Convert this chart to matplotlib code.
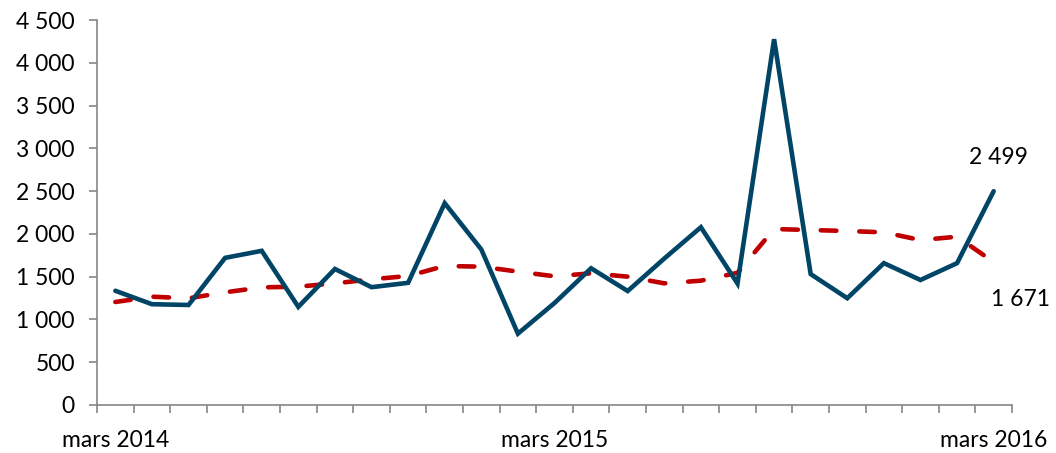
import numpy as np
import matplotlib.pyplot as plt

plt.rcParams['font.family'] = ['Lato', 'DejaVu Sans']

# monthly values, mars 2014 .. mars 2016
months = ["mars 2014", "avr 2014", "mai 2014", "juin 2014", "juil 2014", "août 2014",
          "sept 2014", "oct 2014", "nov 2014", "déc 2014", "janv 2015", "févr 2015",
          "mars 2015", "avr 2015", "mai 2015", "juin 2015", "juil 2015", "août 2015",
          "sept 2015", "oct 2015", "nov 2015", "déc 2015", "janv 2016", "févr 2016",
          "mars 2016"]
monthly = [1335, 1178, 1169, 1720, 1802, 1147, 1590, 1377, 1428, 2359, 1818, 834,
           1192, 1598, 1332, 1712, 2078, 1420, 4276, 1530, 1248, 1658, 1461, 1658,
           2499]
trend = [1204, 1266, 1247, 1317, 1375, 1383, 1422, 1469, 1508, 1625, 1617, 1559,
         1504, 1539, 1500, 1422, 1453, 1545, 2057, 2045, 2034, 2018, 1928, 1967,
         1671]
label_idx = [0, 12, 24]

x = np.arange(len(months))
grey = "#868686"
fs = 16.5

fig = plt.figure(figsize=(10.56, 4.53), dpi=100)
ax = fig.add_axes([0.0919, 0.106, 0.8664, 0.8498])

ax.plot(x, trend, color="#C00000", lw=3.3, dashes=(3.4, 5.0),
        dash_capstyle="round", solid_capstyle="round", zorder=2)
ax.plot(x, monthly, color="#004566", lw=3.3, solid_joinstyle="miter",
        solid_capstyle="round", zorder=3)

ax.annotate(f"{monthly[-1]:,}".replace(",", " "), (x[-1], monthly[-1]),
            xytext=(5, 34), textcoords="offset pixels", ha="center", va="center",
            fontsize=fs)
ax.annotate(f"{trend[-1]:,}".replace(",", " "), (x[-1], trend[-1]),
            xytext=(27, -37), textcoords="offset pixels", ha="center", va="center",
            fontsize=fs)

ax.set_xlim(-0.5, len(months) - 0.5)
ax.set_ylim(0, 4500)
ax.set_yticks(np.arange(0, 4501, 500))
ax.set_yticklabels([f"{v:,}".replace(",", " ") for v in range(0, 4501, 500)])

# tick marks between months, labels every 12 months
ax.set_xticks(np.arange(-0.5, len(months), 1.0))
ax.set_xticklabels([])
ax.set_xticks(x[label_idx], minor=True)
ax.set_xticklabels([months[i] for i in label_idx], minor=True)
ax.tick_params(axis="x", which="major", length=6, width=1.2, color=grey)
ax.tick_params(axis="x", which="minor", length=0, pad=18, labelsize=fs)
ax.tick_params(axis="y", length=6, width=1.2, color=grey, pad=10, labelsize=fs)

for side in ["top", "right"]:
    ax.spines[side].set_visible(False)
for side in ["left", "bottom"]:
    ax.spines[side].set_color(grey)
    ax.spines[side].set_linewidth(1.2)

fig.savefig("out.png", dpi=100)
